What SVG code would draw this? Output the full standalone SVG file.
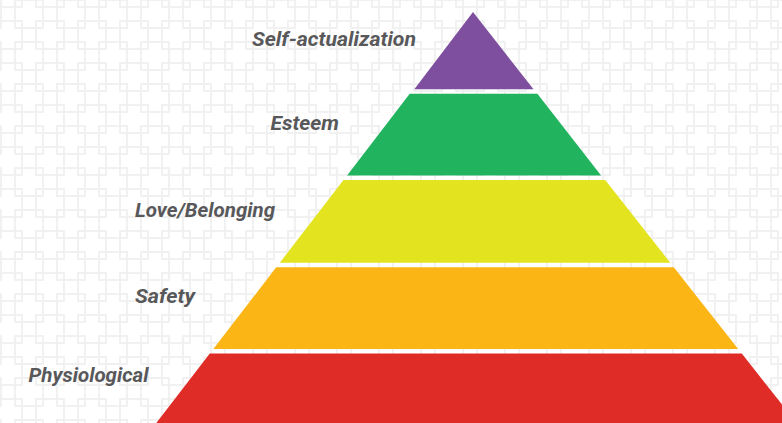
<svg xmlns="http://www.w3.org/2000/svg" width="782" height="423" viewBox="0 0 782 423">
  <defs>
    <!-- interlocking square lattice used as the page backdrop -->
    <pattern id="lattice" patternUnits="userSpaceOnUse" x="12" y="-3" width="42" height="42">
      <g fill="none" stroke="#f0f0f0" stroke-width="1.8">
        <rect x="3" y="3" width="28" height="28"/>
        <rect x="24" y="24" width="28" height="28"/>
        <rect x="-18" y="-18" width="28" height="28"/>
        <rect x="24" y="-18" width="28" height="28"/>
        <rect x="-18" y="24" width="28" height="28"/>
      </g>
    </pattern>
    <style>
      .label { font-family: Roboto, "Liberation Sans", sans-serif; font-weight: 700; font-style: italic; font-size: 20px; fill: #58585a; }
    </style>
  </defs>

  <rect width="782" height="423" fill="#ffffff"/>
  <rect width="782" height="423" fill="url(#lattice)"/>

  <!-- pyramid tiers, top to bottom -->
  <g id="tier-self-actualization">
    <polygon points="473,12 414.3,89.3 533.5,89.3" fill="#7f4f9f"/>
  </g>
  <g id="tier-esteem">
    <polygon points="409.7,93.8 537.4,93.8 601.1,175.5 347.1,175.5" fill="#22b35e"/>
  </g>
  <g id="tier-love-belonging">
    <polygon points="343.5,180 605.2,180 670.3,262.7 279.8,262.7" fill="#e3e41f"/>
  </g>
  <g id="tier-safety">
    <polygon points="276.2,267.3 673.8,267.3 738.2,349 213.3,349" fill="#fbb616"/>
  </g>
  <g id="tier-physiological">
    <polygon points="209.8,353.5 741.8,353.5 802,430 150.9,430" fill="#df2c27"/>
  </g>

  <!-- level labels -->
  <g id="labels">
    <text class="label" x="252" y="45.5" textLength="164" lengthAdjust="spacingAndGlyphs">Self-actualization</text>
    <text class="label" x="270.5" y="129.5" textLength="68.5" lengthAdjust="spacingAndGlyphs">Esteem</text>
    <text class="label" x="135" y="217" textLength="140" lengthAdjust="spacingAndGlyphs">Love/Belonging</text>
    <text class="label" x="135" y="303" textLength="60" lengthAdjust="spacingAndGlyphs">Safety</text>
    <text class="label" x="28.5" y="382" textLength="120" lengthAdjust="spacingAndGlyphs">Physiological</text>
  </g>
</svg>
